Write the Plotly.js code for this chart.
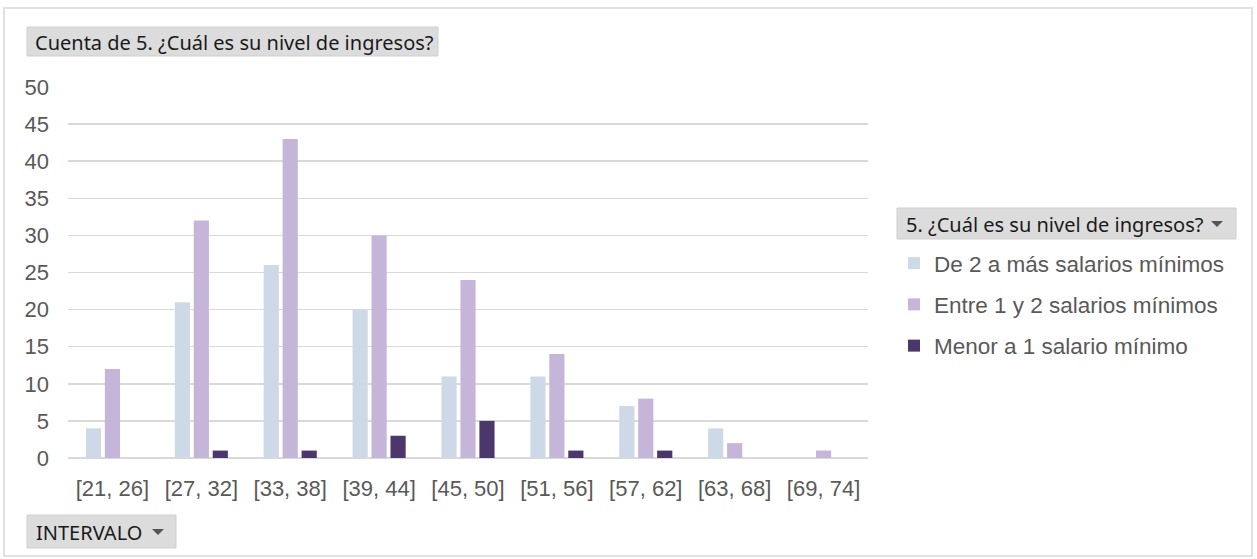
<!DOCTYPE html>
<html>
<head>
<meta charset="utf-8">
<script src="https://cdn.plot.ly/plotly-3.0.1.min.js"></script>
<style>html,body{margin:0;padding:0;background:#fff;}#chart{width:1257px;height:559px;}</style>
</head>
<body>
<div id="chart"></div>
<script>
const categories = ["[21, 26]","[27, 32]","[33, 38]","[39, 44]","[45, 50]","[51, 56]","[57, 62]","[63, 68]","[69, 74]"];
const seriesNames = ["De 2 a más salarios mínimos","Entre 1 y 2 salarios mínimos","Menor a 1 salario mínimo"];
const deDosAMas = [4,21,26,20,11,11,7,4,0];
const entreUnoYDos = [12,32,43,30,24,14,8,2,1];
const menorAUno = [0,1,1,3,5,1,1,0,0];
const colors = ["#cdd9e7","#c5b6d9","#4c376c"];
const yTicks = [0,5,10,15,20,25,30,35,40,45,50];
const chartTitle = "Cuenta de 5. ¿Cuál es su nivel de ingresos?";
const legendHeader = "5. ¿Cuál es su nivel de ingresos?";
const axisButton = "INTERVALO";

const W = 1257, H = 559;
const L = 68, R = 868, T = 87, B = 458;
const px = x => (x - L) / (R - L);
const py = y => (B - y) / (B - T);

const series = [deDosAMas, entreUnoYDos, menorAUno];
const traces = series.map((vals, i) => ({
  type: "bar",
  x: categories,
  y: vals,
  name: seriesNames[i],
  legendgroup: "g" + i,
  marker: {color: colors[i], line: {width: 0}},
  hoverinfo: "none"
}));

function box(x0, y0, x1, y1) {
  return {type: "rect", xref: "paper", yref: "paper", x0: px(x0), x1: px(x1), y0: py(y1), y1: py(y0),
    fillcolor: "#dcdcdc", line: {color: "#cfcfcf", width: 1}, layer: "below"};
}
function tri(cx, cy) {
  return {type: "path", xref: "paper", yref: "paper",
    path: `M ${px(cx-6)} ${py(cy-3)} L ${px(cx+6)} ${py(cy-3)} L ${px(cx)} ${py(cy+3)} Z`,
    fillcolor: "#555", line: {width: 0}};
}
const uiFont = {family: "Noto Sans, Open Sans, sans-serif", size: 20, color: "#1a1a1a"};

const layout = {
  width: W, height: H,
  margin: {l: L, r: W - R, t: T, b: H - B},
  paper_bgcolor: "#fff", plot_bgcolor: "#fff",
  barmode: "group", bargap: 0.36, bargroupgap: 0.2,
  font: {family: "Arial, Liberation Sans, sans-serif", color: "#595959", size: 22},
  xaxis: {type: "category", showgrid: false, showline: false, zeroline: false, ticks: "",
    ticklabelstandoff: 15, tickfont: {size: 22, color: "#595959"}, fixedrange: true},
  yaxis: {range: [0, 50], tickvals: yTicks, showgrid: true, gridcolor: "#d9d9d9", gridwidth: 1.5,
    zeroline: true, zerolinecolor: "#d9d9d9", zerolinewidth: 1.5, showline: false, ticks: "",
    ticklabelstandoff: 18, tickfont: {size: 22, color: "#595959"}, fixedrange: true},
  showlegend: true,
  legend: {x: px(894), y: py(242), xanchor: "left", yanchor: "top", traceorder: "grouped",
    tracegroupgap: 9, font: {family: "Arial, Liberation Sans, sans-serif", size: 22.5, color: "#595959"},
    itemwidth: 30, bgcolor: "rgba(0,0,0,0)"},
  shapes: [
    {type: "rect", xref: "paper", yref: "paper", x0: px(4), x1: px(1252), y0: py(556), y1: py(8),
      line: {color: "#d9d9d9", width: 1.5}, fillcolor: "rgba(0,0,0,0)", layer: "below"},
    box(27, 27, 438, 56),
    box(897, 208, 1236, 239), tri(1217, 224),
    box(27, 515, 176, 548), tri(158, 532)
  ],
  annotations: [
    {text: chartTitle, xref: "paper", yref: "paper", x: px(33), y: py(42), xanchor: "left", yanchor: "middle",
      showarrow: false, font: uiFont},
    {text: legendHeader, xref: "paper", yref: "paper", x: px(904), y: py(224), xanchor: "left", yanchor: "middle",
      showarrow: false, font: uiFont},
    {text: axisButton, xref: "paper", yref: "paper", x: px(34), y: py(532), xanchor: "left", yanchor: "middle",
      showarrow: false, font: uiFont}
  ]
};

Plotly.newPlot("chart", traces, layout, {staticPlot: true, displayModeBar: false});
</script>
</body>
</html>
